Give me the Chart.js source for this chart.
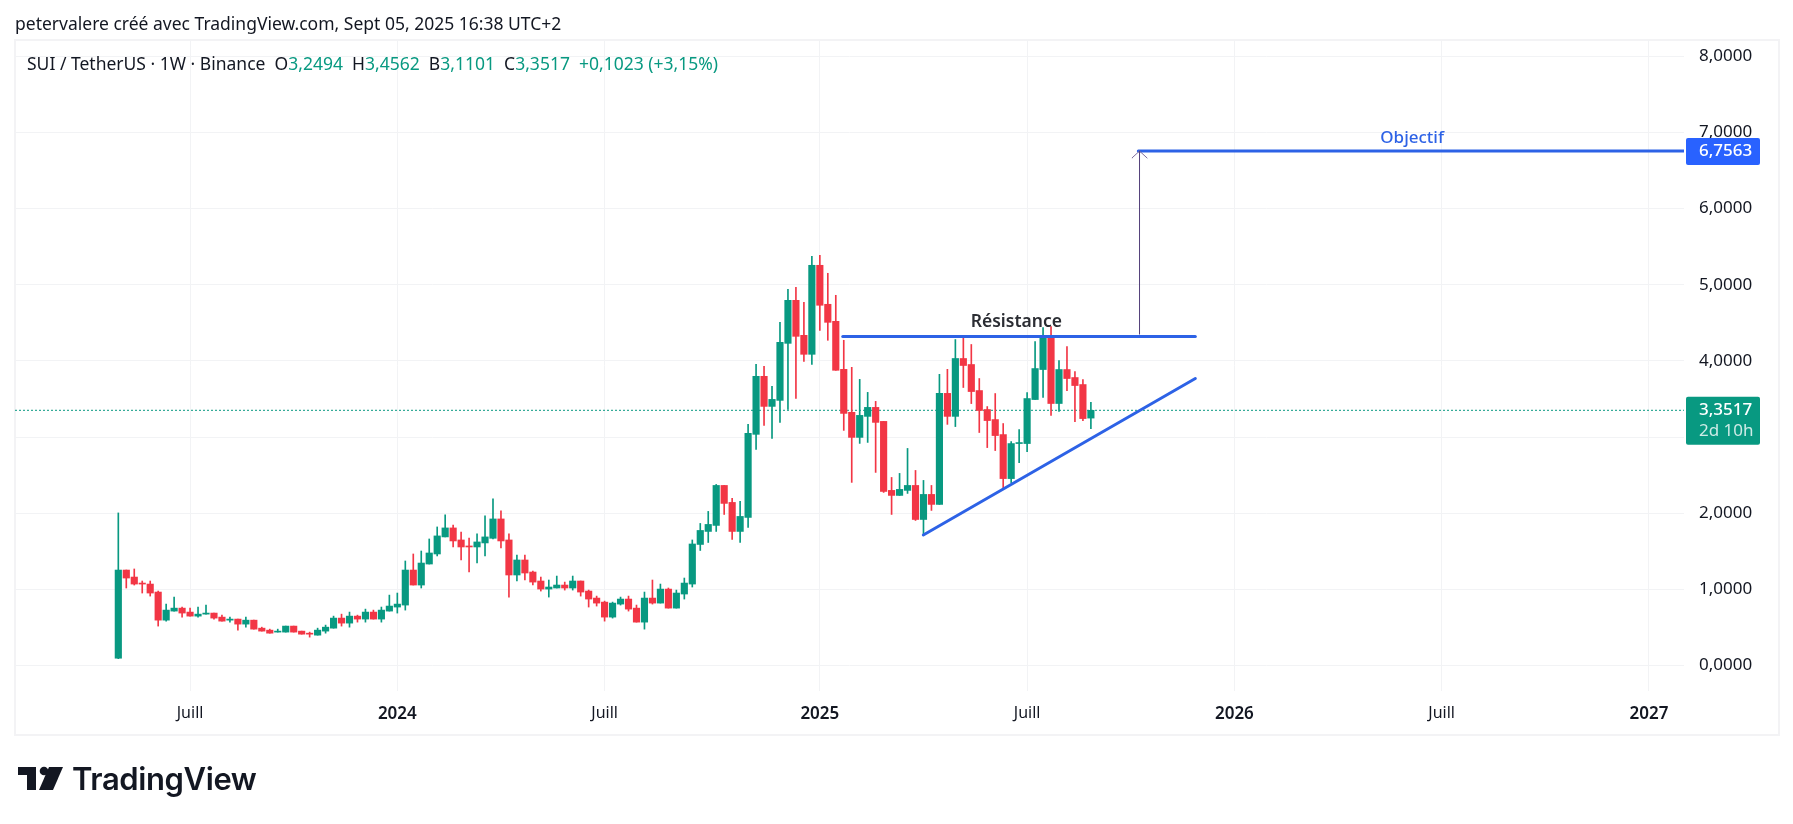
<!DOCTYPE html>
<html lang="fr">
<head>
<meta charset="utf-8">
<title>SUI / TetherUS</title>
<script src="https://cdn.jsdelivr.net/npm/chart.js@4/dist/chart.umd.min.js"></script>
<style>
  html, body { margin: 0; padding: 0; background: #fff; width: 1793px; height: 824px; overflow: hidden; }
  body { font-family: "Noto Sans", sans-serif; color: #131722; }
  #frame { position: absolute; left: 14px; top: 39px; width: 1762px; height: 693px; border: 2px solid #f3f3f5; box-sizing: content-box; }
  canvas { position: absolute; left: 0; top: 0; }
  .txt { position: absolute; white-space: pre; }
  #credit { left: 15px; top: 12px; font-size: 17.5px; line-height: 22px; }
  #legend { left: 27px; top: 52px; font-size: 17.5px; line-height: 22px; }
  #legend b { font-weight: 400; color: #089981; }
  #brand { left: 72px; top: 760px; font-family: Inter, sans-serif; font-size: 31px; line-height: 38px; font-weight: 600; letter-spacing: -0.4px; color: #131722; }
  #logo { position: absolute; left: 18px; top: 766px; }
</style>
</head>
<body>
<div id="frame"></div>
<canvas id="chart" width="1793" height="824"></canvas>
<div class="txt" id="credit">petervalere créé avec TradingView.com, Sept 05, 2025 16:38 UTC+2</div>
<div class="txt" id="legend">SUI / TetherUS · 1W · Binance  O<b>3,2494</b>  H<b>3,4562</b>  B<b>3,1101</b>  C<b>3,3517</b>  <b>+0,1023 (+3,15%)</b></div>
<svg id="logo" width="46" height="24" viewBox="0 0 46 24">
  <path d="M0 1H18V24H9V9H0Z" fill="#131722"/>
  <circle cx="26" cy="5" r="4.3" fill="#131722"/>
  <path d="M31 1H45L35 24H21Z" fill="#131722"/>
</svg>
<div class="txt" id="brand">TradingView</div>

<script>
// weekly candles, first one is the week of 1 May 2023
const opens = [
  0.096, 1.254, 1.162, 1.083, 1.07, 0.965, 0.596, 0.715, 0.754, 0.702,
  0.649, 0.675, 0.689, 0.636, 0.596, 0.61, 0.544, 0.596, 0.491, 0.465,
  0.439, 0.439, 0.518, 0.452, 0.425, 0.399, 0.452, 0.491, 0.623, 0.557,
  0.649, 0.61, 0.702, 0.61, 0.715, 0.768, 0.794, 1.254, 1.057, 1.333,
  1.465, 1.689, 1.807, 1.649, 1.57, 1.557, 1.61, 1.671, 1.925, 1.649,
  1.189, 1.386, 1.228, 1.11, 1.004, 1.018, 1.057, 1.018, 1.11, 0.978,
  0.886, 0.833, 0.636, 0.807, 0.873, 0.754, 0.57, 0.886, 0.82, 1.004,
  0.754, 0.939, 1.07, 1.59, 1.761, 1.84, 2.365, 2.142, 1.761, 1.945,
  3.036, 3.798, 3.403, 3.482, 4.231, 4.796, 4.336, 4.087, 5.256, 4.744,
  4.52, 3.89, 3.325, 2.996, 3.272, 3.39, 3.206, 2.3, 2.234, 2.3,
  2.365, 1.918, 2.247, 2.116, 3.574, 3.272, 4.032, 3.953, 3.611, 3.362,
  3.23, 3.033, 2.455, 2.915, 2.915, 3.493, 3.887, 4.334, 3.441, 3.887,
  3.782, 3.69, 3.2494
];
const highs = [
  2.004, 1.254, 1.268, 1.11, 1.11, 0.978, 0.807, 0.899, 0.768, 0.754,
  0.768, 0.794, 0.689, 0.662, 0.636, 0.61, 0.636, 0.596, 0.504, 0.478,
  0.478, 0.518, 0.518, 0.452, 0.439, 0.491, 0.531, 0.649, 0.675, 0.702,
  0.662, 0.741, 0.728, 0.768, 0.925, 0.952, 1.373, 1.465, 1.504, 1.662,
  1.82, 1.978, 1.846, 1.754, 1.675, 1.728, 1.965, 2.189, 2.031, 1.728,
  1.452, 1.452, 1.241, 1.162, 1.123, 1.175, 1.096, 1.175, 1.11, 0.991,
  0.912, 0.846, 0.833, 0.899, 0.912, 0.794, 0.965, 1.123, 1.07, 1.018,
  0.991, 1.149, 1.649, 1.866, 2.024, 2.378, 2.365, 2.195, 2.155, 3.167,
  3.955, 3.929, 3.666, 4.507, 4.941, 4.967, 4.77, 5.374, 5.388, 5.151,
  4.862, 4.271, 3.916, 3.758, 3.587, 3.469, 3.206, 2.47, 2.523, 2.851,
  2.562, 2.431, 2.365, 3.824, 3.89, 4.281, 4.32, 4.216, 3.769, 3.401,
  3.572, 3.178, 2.941, 3.099, 3.585, 4.255, 4.439, 4.452, 4.006, 4.19,
  3.861, 3.756, 3.4562
];
const lows = [
  0.09, 1.018, 1.057, 0.952, 0.912, 0.518, 0.583, 0.715, 0.636, 0.649,
  0.636, 0.675, 0.61, 0.583, 0.57, 0.465, 0.504, 0.478, 0.452, 0.425,
  0.439, 0.439, 0.439, 0.412, 0.373, 0.399, 0.425, 0.491, 0.518, 0.504,
  0.57, 0.57, 0.61, 0.57, 0.715, 0.689, 0.728, 1.057, 1.018, 1.333,
  1.439, 1.689, 1.557, 1.386, 1.228, 1.346, 1.439, 1.662, 1.544, 0.899,
  1.11, 1.123, 1.057, 0.978, 0.899, 1.018, 0.991, 0.991, 0.912, 0.768,
  0.781, 0.583, 0.623, 0.794, 0.715, 0.57, 0.478, 0.807, 0.82, 0.754,
  0.754, 0.873, 1.031, 1.511, 1.616, 1.761, 1.984, 1.656, 1.616, 1.813,
  2.838, 3.154, 2.983, 3.193, 3.364, 3.509, 3.995, 3.955, 4.402, 4.271,
  3.877, 3.088, 2.405, 2.917, 2.93, 2.536, 2.273, 1.984, 2.234, 2.26,
  1.905, 1.721, 2.037, 2.116, 3.167, 3.138, 3.651, 3.44, 3.06, 2.862,
  2.823, 2.324, 2.402, 2.665, 2.81, 3.493, 3.52, 3.283, 3.336, 3.611,
  3.204, 3.217, 3.1101
];
const closes = [
  1.254, 1.149, 1.07, 1.07, 0.952, 0.596, 0.728, 0.754, 0.689, 0.649,
  0.675, 0.689, 0.623, 0.583, 0.61, 0.544, 0.596, 0.478, 0.452, 0.425,
  0.452, 0.518, 0.439, 0.412, 0.412, 0.465, 0.504, 0.623, 0.557, 0.649,
  0.61, 0.702, 0.61, 0.728, 0.781, 0.807, 1.254, 1.057, 1.346, 1.478,
  1.702, 1.807, 1.636, 1.557, 1.557, 1.623, 1.689, 1.925, 1.636, 1.189,
  1.386, 1.215, 1.096, 1.004, 1.031, 1.057, 1.018, 1.11, 0.965, 0.873,
  0.82, 0.636, 0.82, 0.873, 0.741, 0.57, 0.886, 0.82, 1.004, 0.754,
  0.952, 1.083, 1.596, 1.774, 1.853, 2.365, 2.129, 1.761, 1.958, 3.049,
  3.798, 3.403, 3.495, 4.244, 4.796, 4.323, 4.087, 5.256, 4.731, 4.507,
  3.877, 3.311, 2.996, 3.285, 3.39, 3.193, 2.286, 2.234, 2.313, 2.365,
  1.918, 2.247, 2.116, 3.574, 3.272, 4.032, 3.94, 3.598, 3.349, 3.217,
  3.02, 2.455, 2.915, 2.928, 3.506, 3.9, 4.334, 3.441, 3.887, 3.769,
  3.677, 3.243, 3.3517
];

// axis ticks
const priceTicks = [0, 1, 2, 3, 4, 5, 6, 7, 8];
const timeTickWeeks = [9, 35, 61, 88, 114, 140, 166, 192];
const timeTickLabels = ['Juill', '2024', 'Juill', '2025', 'Juill', '2026', 'Juill', '2027'];

// drawings on the chart, [week, price]
const resistanceLine = [[90.87, 4.32], [135.1, 4.32]];
const trendLine = [[100.98, 1.715], [135.1, 3.769]];
const objectifLine = [[127.95, 6.7563], [196.4, 6.7563]];
const arrowShaft = [[128.1, 4.35], [128.1, 6.7563]];
const arrowHead = [[127.15, 6.665], [128.1, 6.7563], [129.05, 6.665]];
const lastPriceLine = [[-12.96, 3.3517], [196.4, 3.3517]];

const lastPrice = 3.3517;
const objectifPrice = 6.7563;
const resistanceLabel = { text: 'Résistance', week: 112.65, price: 4.505 };
const objectifLabel = { text: 'Objectif', week: 162.3, price: 6.93 };

const UP = '#089981', DOWN = '#f23645', BLUE = '#2d62e6';
const FONT = '"Noto Sans", sans-serif';

const weeks = opens.map((_, i) => i);
const candleColors = weeks.map(i => closes[i] >= opens[i] ? UP : DOWN);

function toPoints(list) {
  return list.map(p => ({ x: p[0], y: p[1] }));
}

function drawing(list, color, width, extra) {
  return Object.assign({
    type: 'line', data: toPoints(list), borderColor: color, borderWidth: width,
    pointRadius: 0, tension: 0, borderCapStyle: 'round', order: 1
  }, extra);
}

function roundedTag(ctx, x, y, w, h, color) {
  ctx.fillStyle = color;
  ctx.beginPath();
  ctx.roundRect(x, y, w, h, 2);
  ctx.fill();
}

// price tags and text notes, anchored through the scales
const notesPlugin = {
  id: 'notes',
  afterDraw(chart) {
    const { ctx, scales: { x, y } } = chart;
    ctx.save();
    ctx.textBaseline = 'middle';

    ctx.textAlign = 'center';
    ctx.font = '600 17.5px ' + FONT;
    ctx.fillStyle = '#2b2d33';
    ctx.fillText(resistanceLabel.text, x.getPixelForValue(resistanceLabel.week), y.getPixelForValue(resistanceLabel.price));
    ctx.fillStyle = BLUE;
    ctx.font = '500 17px ' + FONT;
    ctx.fillText(objectifLabel.text, x.getPixelForValue(objectifLabel.week), y.getPixelForValue(objectifLabel.price));

    ctx.textAlign = 'left';
    const objY = y.getPixelForValue(objectifPrice);
    roundedTag(ctx, 1686, objY - 13, 74, 27, '#2962ff');
    ctx.fillStyle = '#fff';
    ctx.font = '500 17px ' + FONT;
    ctx.fillText('6,7563', 1699, objY);

    const lastY = y.getPixelForValue(lastPrice);
    roundedTag(ctx, 1686, lastY - 13.5, 74, 48, UP);
    ctx.fillStyle = '#fff';
    ctx.fillText('3,3517', 1699, lastY);
    ctx.fillStyle = 'rgba(255,255,255,0.8)';
    ctx.font = '400 17px ' + FONT;
    ctx.fillText('2d 10h', 1699, lastY + 21);
    ctx.restore();
  }
};

new Chart(document.getElementById('chart'), {
  type: 'bar',
  data: {
    datasets: [
      {
        label: 'wicks', order: 3, grouped: false, barThickness: 1,
        data: weeks.map(i => ({ x: i, y: [lows[i], highs[i]] })),
        backgroundColor: candleColors
      },
      {
        label: 'bodies', order: 2, grouped: false, barThickness: 6.5, minBarLength: 1,
        data: weeks.map(i => ({ x: i, y: [opens[i], closes[i]] })),
        backgroundColor: candleColors
      },
      drawing(lastPriceLine, UP, 1, { borderDash: [2, 2], borderCapStyle: 'butt', order: 4 }),
      drawing(resistanceLine, BLUE, 3),
      drawing(trendLine, BLUE, 3),
      drawing(arrowShaft, '#54407a', 1),
      drawing(arrowHead, '#7d6c9c', 1),
      drawing(objectifLine, BLUE, 3)
    ]
  },
  options: {
    responsive: false,
    devicePixelRatio: 1,
    animation: false,
    events: [],
    layout: { padding: { left: 15, top: 40, right: 0, bottom: 0 } },
    plugins: { legend: { display: false }, tooltip: { enabled: false } },
    scales: {
      x: {
        type: 'linear',
        offset: false,
        bounds: 'data',
        min: -12.96,
        max: 196.4,
        afterBuildTicks(scale) { scale.ticks = timeTickWeeks.map(value => ({ value })); },
        afterFit(scale) { scale.height = 133; },
        grid: { color: '#f2f3f5', offset: false, drawTicks: false },
        border: { display: false },
        ticks: {
          autoSkip: false, maxRotation: 0, padding: 13, color: '#131722',
          font: ctx => {
            const isYear = timeTickLabels[ctx.index] !== 'Juill';
            return { family: FONT, size: isYear ? 17 : 16, weight: isYear ? '600' : '400' };
          },
          callback: (value, index) => timeTickLabels[index]
        }
      },
      y: {
        position: 'right',
        bounds: 'data',
        min: -0.3344,
        max: 8.2145,
        afterBuildTicks(scale) { scale.ticks = priceTicks.map(value => ({ value })); },
        afterFit(scale) { scale.width = 109; },
        grid: { color: '#f2f3f5', drawTicks: false },
        border: { display: false },
        ticks: {
          padding: 15, color: '#131722',
          font: { family: FONT, size: 17 },
          callback: value => value.toFixed(4).replace('.', ',')
        }
      }
    }
  },
  plugins: [notesPlugin]
});
</script>
</body>
</html>
